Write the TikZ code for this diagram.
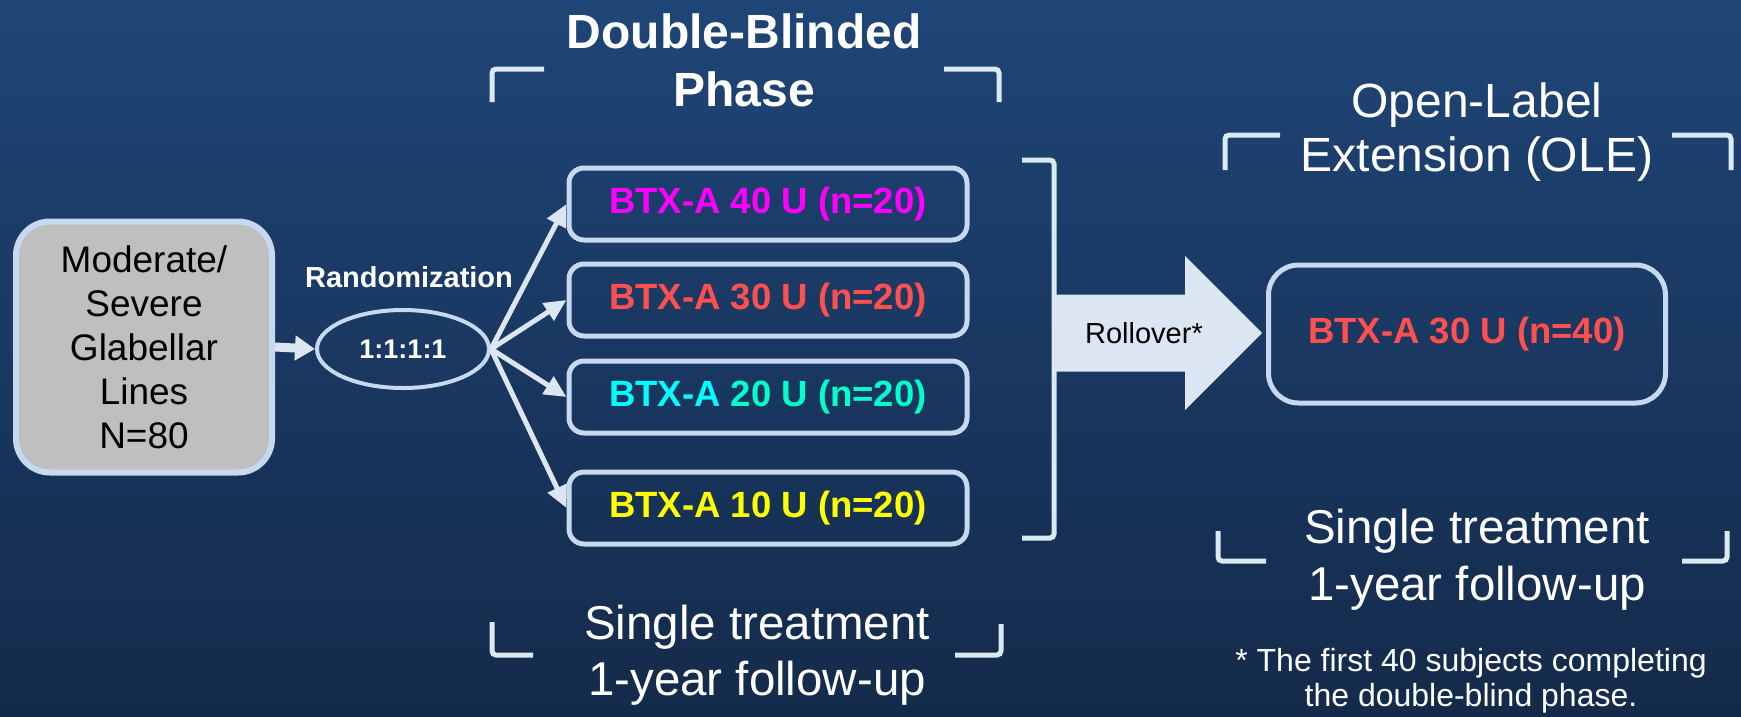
\documentclass[tikz,border=0pt]{standalone}
\usepackage{fontspec}
\setmainfont{Liberation Sans}
\usetikzlibrary{shapes.geometric,arrows.meta}
\definecolor{bgtop}{RGB}{31,69,119}
\definecolor{bgbot}{RGB}{20,42,74}
\definecolor{edge}{RGB}{198,217,241}
\definecolor{arrowc}{RGB}{220,230,242}
\definecolor{brk}{RGB}{218,234,242}
\definecolor{magent}{RGB}{255,0,255}
\definecolor{coral}{RGB}{255,80,80}
\definecolor{cyanA}{RGB}{0,255,255}
\definecolor{aqua}{RGB}{0,255,204}
\definecolor{yell}{RGB}{255,255,0}
\definecolor{graybox}{RGB}{191,191,191}
\begin{document}
\begin{tikzpicture}[x=1pt,y=-1pt,
  srcbox/.style={draw=edge, line width=6pt, fill=graybox, rounded corners=34pt, minimum width=256pt, minimum height=251pt, align=center, text=black, font=\fontsize{37}{44}\selectfont},
  armbox/.style={draw=edge, line width=5pt, rounded corners=15pt, minimum width=398pt, minimum height=72pt, font=\fontsize{36.5}{43}\selectfont\bfseries},
  olebox/.style={draw=edge, line width=5pt, rounded corners=30pt, minimum width=397pt, minimum height=138pt, font=\fontsize{36.5}{43}\selectfont\bfseries, text=coral},
  randell/.style={ellipse, draw=edge, line width=4pt, minimum width=172pt, minimum height=78pt, inner sep=0pt, text=white, font=\fontsize{27}{30}\selectfont\bfseries},
  fan/.style={draw=arrowc, line width=5pt, -{Triangle[length=22pt,width=20pt]}},
  feed/.style={draw=arrowc, line width=9pt, -{Triangle[length=20pt,width=24pt]}},
  bracket/.style={draw=brk, line width=5pt, rounded corners=4pt},
  head/.style={text=white, align=center, font=\fontsize{47.5}{58}\selectfont},
  headb/.style={text=white, align=center, font=\fontsize{48}{58}\selectfont\bfseries},
  note/.style={text=white, align=center, font=\fontsize{32}{35}\selectfont},
  lbl/.style={text=white, font=\fontsize{29}{32}\selectfont\bfseries}
]
\useasboundingbox (0,0) rectangle (1741,716);
\shade[top color=bgtop,bottom color=bgbot] (0,0) rectangle (1741,716);

% source and randomization
\node[srcbox] (src) at (144,347) {Moderate/\\Severe\\Glabellar\\Lines\\N=80};
\node[randell] (rand) at (403,349) {1:1:1:1};
\node[lbl] (randlbl) at (409,277) {Randomization};
\draw[feed] (src.east) -- (rand.west);

% arms
\node[armbox] (a40) at (768,204) {\color{magent}BTX-A 40 U (n=20)};
\node[armbox] (a30) at (768,300) {\color{coral}BTX-A 30 U (n=20)};
\node[armbox] (a20) at (768,397) {\color{cyanA}BTX-A \color{aqua}20 U (n=20)};
\node[armbox] (a10) at (768,508) {\color{yell}BTX-A 10 U (n=20)};
\foreach \t in {a40,a30,a20,a10} \draw[fan] (rand.east) -- (\t.west);

% big bracket
\draw[bracket] (1022,160) -- (1054,160) -- (1054,538) -- (1022,538);

% OLE box
\node[olebox] (ole) at (1467,334) {BTX-A 30 U (n=40)};

% rollover arrow from the bracket to the OLE box
\coordinate (rs) at (1054,333);
\coordinate (rt) at (1262,333);
\fill[arrowc] (rs |- 0,294.5) -- (1185,294.5) -- (1185,256) -- (rt) -- (1185,410) -- (1185,371.5) -- (rs |- 0,371.5) -- cycle;
\node[text=black, font=\fontsize{29}{32}\selectfont] (roll) at (1144,333) {Rollover*};

% headings
\node[headb] (dbp) at (744,60) {Double-Blinded\\Phase};
\draw[bracket] (544,69) -- (492,69) -- (492,102);
\draw[bracket] (944,69) -- (999,69) -- (999,102);

\node[head, font=\fontsize{47.5}{56}\selectfont] (st1) at (757,655) {Single treatment\\1-year follow-up};
\draw[bracket] (492,622) -- (492,655) -- (533,655);
\draw[bracket] (955,655) -- (1001,655) -- (1001,624);

\node[head, font=\fontsize{48}{54}\selectfont] (olel) at (1477,132) {Open-Label\\Extension (OLE)};
\draw[bracket] (1280,135) -- (1225,135) -- (1225,170);
\draw[bracket] (1672,135) -- (1731,135) -- (1731,170);

\node[head, font=\fontsize{47.5}{57}\selectfont] (st2) at (1477,560) {Single treatment\\1-year follow-up};
\draw[bracket] (1218,531) -- (1218,561) -- (1266,561);
\draw[bracket] (1682,561) -- (1727,561) -- (1727,531);

\node[note] (fn) at (1471,681) {* The first 40 subjects completing\\the double-blind phase.};
\end{tikzpicture}
\end{document}
